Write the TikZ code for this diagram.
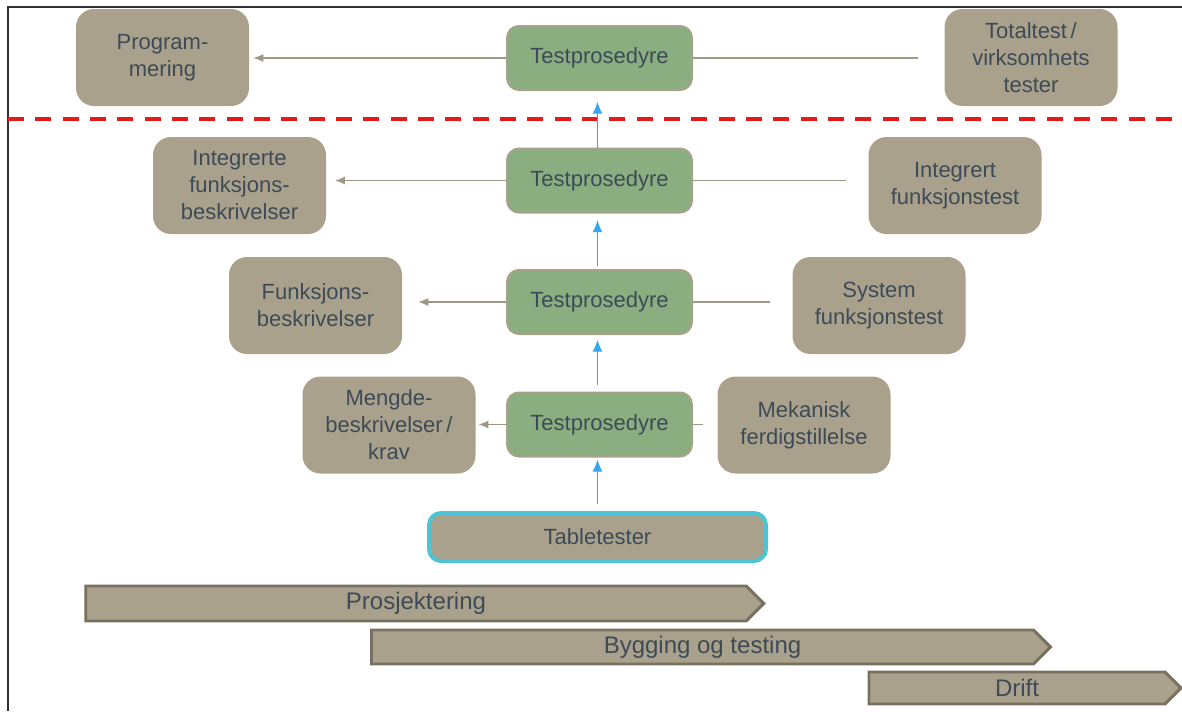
\documentclass[tikz,border=0pt]{standalone}
\usepackage{fontspec}
\setmainfont{Liberation Sans}
\usepackage{tikz}
\usepackage{xcolor}
\usetikzlibrary{arrows.meta}
\usetikzlibrary{shapes.symbols}

\definecolor{tanfill}{HTML}{A9A18B}
\definecolor{tanedge}{HTML}{78715F}
\definecolor{testgreen}{HTML}{8BAE80}
\definecolor{inktext}{HTML}{3D4A57}
\definecolor{linkgray}{HTML}{9E9886}
\definecolor{upblue}{HTML}{35A6F0}
\definecolor{cutred}{HTML}{E31B1B}
\definecolor{tablecyan}{HTML}{4DC3D6}

\tikzset{
  sidebox/.style={rectangle, rounded corners=13.5pt, fill=tanfill, text=inktext,
    minimum width=129.75pt, minimum height=72.75pt, align=center,
    font=\fontsize{16.5}{20.25}\selectfont},
  testbox/.style={rectangle, rounded corners=9pt, fill=testgreen, draw=tanfill,
    line width=1.5pt, text=inktext, minimum width=138.75pt, minimum height=48pt,
    font=\fontsize{16.5}{20.25}\selectfont},
  tablebox/.style={rectangle, rounded corners=9pt, fill=tanfill, draw=tablecyan,
    line width=3pt, text=inktext, minimum width=252.75pt, minimum height=36pt,
    font=\fontsize{16.5}{20.25}\selectfont},
  phase/.style={signal, signal to=east, signal pointer angle=90, fill=tanfill,
    draw=tanedge, line width=2.2pt, text=inktext, inner sep=0pt,
    font=\fontsize{18}{21}\selectfont},
  backlink/.style={draw=linkgray, line width=0.9pt},
  backarrow/.style={backlink, -{Latex[length=7.5pt,width=6pt]}},
  uparrow/.style={draw=upblue, line width=1pt, -{Latex[length=9pt,width=7.5pt]}}
}

\begin{document}
\begin{tikzpicture}[x=0.75pt,y=-0.75pt]
  \useasboundingbox (0,0) rectangle (1182,711);
  \draw[line width=1.2pt,black!80] (8,711) -- (8,7) -- (1182,7);

  \node (prog) [sidebox] at (162.5,57.5) {Program-\\mering};
  \node (tp1) [testbox] at (599.5,58) {Testprosedyre};
  \node (tot) [sidebox] at (1031,57.5) {Totaltest\,/\\virksomhets\\tester};

  \draw[cutred, line width=3pt, dash pattern=on 12pt off 8.5pt] (8,119) -- (1182,119);

  \node (ifb) [sidebox] at (239.5,185.5) {Integrerte\\funksjons-\\beskrivelser};
  \node (tp2) [testbox] at (599.5,180.5) {Testprosedyre};
  \node (ift) [sidebox] at (955,185.5) {Integrert\\funksjonstest};

  \node (fb) [sidebox] at (315.5,305.5) {Funksjons-\\beskrivelser};
  \node (tp3) [testbox] at (599.5,302) {Testprosedyre};
  \node (sft) [sidebox] at (879,305.5) {System\\funksjonstest};

  \node (mb) [sidebox] at (389,425) {Mengde-\\beskrivelser\,/\\krav};
  \node (tp4) [testbox] at (599.5,424.5) {Testprosedyre};
  \node (mf) [sidebox] at (804,425) {Mekanisk\\ferdigstillelse};

  \node (tt) [tablebox] at (597.5,537) {Tabletester};

  \node (pro) [phase, minimum width=508.5pt, minimum height=26.25pt] at (416,603.5) {Prosjektering};
  \node (byg) [phase, minimum width=509.25pt, minimum height=25.5pt] at (702.5,647) {Bygging og testing};
  \node (drift) [phase, minimum width=234pt, minimum height=24pt] at (1017,688) {Drift};

  \draw[backlink, shorten <=19.5pt] (tp1.east -| tot.west) -- (tp1.east);
  \draw[backarrow, shorten >=3pt] (tp1.west) -- (tp1.west -| prog.east);
  \draw[backlink, shorten <=17pt] (tp2.east -| ift.west) -- (tp2.east);
  \draw[backarrow, shorten >=6.5pt] (tp2.west) -- (tp2.west -| ifb.east);
  \draw[backlink, shorten <=16.5pt] (tp3.east -| sft.west) -- (tp3.east);
  \draw[backarrow, shorten >=12pt] (tp3.west) -- (tp3.west -| fb.east);
  \draw[backlink, shorten <=10.5pt] (tp4.east -| mf.west) -- (tp4.east);
  \draw[backarrow, shorten >=2pt] (tp4.west) -- (tp4.west -| mb.east);

  \draw[uparrow, shorten <=5pt, shorten >=1.5pt] (tt.north) -- (tt.north |- tp4.south);
  \draw[uparrow, shorten <=5pt, shorten >=3.5pt] (tt.north |- tp4.north) -- (tt.north |- tp3.south);
  \draw[uparrow, shorten <=2pt, shorten >=5pt] (tt.north |- tp3.north) -- (tt.north |- tp2.south);
  \draw[uparrow, shorten <=0pt, shorten >=8pt] (tt.north |- tp2.north) -- (tt.north |- tp1.south);
\end{tikzpicture}
\end{document}
